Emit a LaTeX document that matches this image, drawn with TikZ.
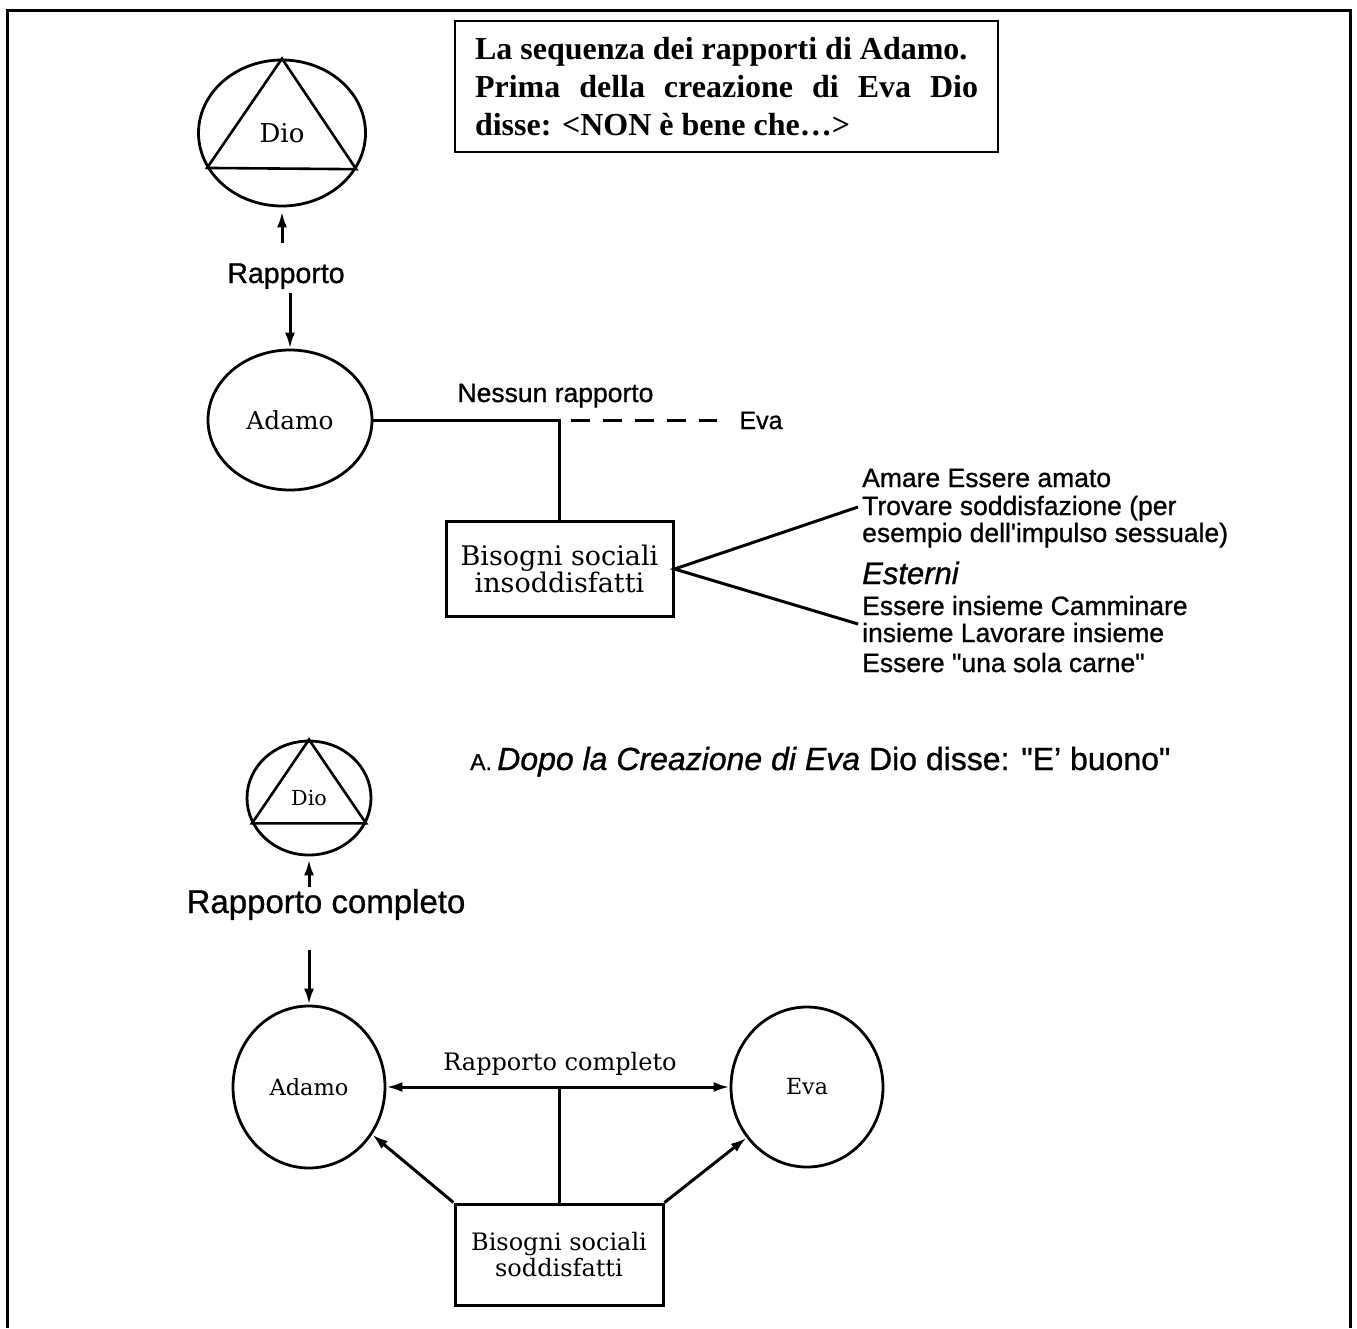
\documentclass[tikz,border=0pt]{standalone}
\usepackage{fontspec}
\newfontfamily\sansA[FakeBold=0.9]{Liberation Sans}
\newfontfamily\serifB{Liberation Serif}
\newfontfamily\serifD{DejaVu Serif}
\usetikzlibrary{shapes.geometric,arrows.meta}
\newcommand\fsz[2]{\fontsize{#1}{#2}\selectfont}
\begin{document}
\begin{tikzpicture}[x=1pt,y=-1pt,
  lw/.style={line width=3pt},
  circ/.style={ellipse,draw,line width=2.8pt,inner sep=0pt},
  boxn/.style={draw,line width=3pt,inner sep=0pt,align=center},
  arr/.style={line width=3pt,-{Latex[length=16pt,width=10pt]}},
  dbl/.style={line width=3pt,{Latex[length=16pt,width=10pt]}-{Latex[length=16pt,width=10pt]}},
  txt/.style={inner sep=0pt,anchor=base},
  rtxt/.style={inner sep=0pt,anchor=base west,font=\sansA\fsz{26.5}{26}}
]
\useasboundingbox (0,0) rectangle (1357,1328);
% frame
\draw[line width=3pt] (7,1328) -- (7,10) -- (1350,10) -- (1350,1328);

% title
\node[draw,line width=2.2pt,minimum width=543pt,minimum height=131pt,inner xsep=20pt,align=left,
  font=\serifB\bfseries\fsz{32}{38}] (title) at (726.5,86.5)
  {La sequenza dei rapporti di Adamo.\\\makebox[503pt][s]{Prima della creazione di Eva Dio}\\disse: <NON è bene che…>};

% ---------- top part ----------
\node[circ,minimum width=167pt,minimum height=146pt,font=\serifD\fsz{26}{26}] (dio1) at (282,133) {Dio};
\draw[line width=2.6pt] (dio1.north) -- (dio1.205.7) -- (dio1.334.3) -- cycle;
\node[txt,font=\sansA\fsz{28.5}{28}] (rap1) at (286,283) {Rapporto};
\coordinate (u1) at (282,243);
\draw[arr,shorten >=4pt] (u1) -- (dio1.south);
\node[circ,minimum width=164pt,minimum height=140pt,font=\serifD\fsz{24.8}{25}] (adamo1) at (290,420) {Adamo};
\coordinate (d1) at (290,293);
\draw[arr] (d1) -- (adamo1.north);

\node[boxn,minimum width=227pt,minimum height=95pt,font=\serifD\fsz{27}{27}] (box1) at (559.5,569) {Bisogni sociali\\insoddisfatti};
\draw[lw] (adamo1.east) -| (box1.north);
\node[txt,font=\sansA\fsz{26.5}{26}] (nr) at (555.5,402) {Nessun rapporto};
\node[txt,font=\sansA\fsz{25}{25}] (eva0) at (761,429) {Eva};
\coordinate (ds) at (571,420);
\draw[lw,dash pattern=on 19pt off 13pt,shorten >=22pt] (ds) -- (eva0.west |- ds);

\node[rtxt] (r1) at (862,487) {Amare Essere amato};
\node[rtxt] (r2) at (862,515) {Trovare soddisfazione (per};
\node[rtxt] (r3) at (862,542) {esempio dell'impulso sessuale)};
\node[rtxt,font=\sansA\itshape\fsz{31}{31}] (r4) at (862,584) {Esterni};
\node[rtxt] (r5) at (862,615) {Essere insieme Camminare};
\node[rtxt] (r6) at (862,642) {insieme Lavorare insieme};
\node[rtxt] (r7) at (862,672) {Essere "una sola carne"};
\coordinate (e1) at (858,507);
\coordinate (e2) at (858,624);
\draw[lw] (e1) -- (box1.east) -- (e2);

% ---------- bottom part ----------
\node[inner sep=0pt,anchor=base west,font=\sansA\fsz{32}{32}] (capA) at (470,770)
  {{\fsz{23}{23}A.}\,\textit{Dopo la Creazione di Eva} Dio disse: "E’ buono"};

\node[circ,minimum width=124pt,minimum height=114pt,font=\serifD\fsz{20.7}{20}] (dio2) at (309,798) {Dio};
\draw[line width=2.6pt] (dio2.north) -- (dio2.204) -- (dio2.336) -- cycle;
\coordinate (u2) at (309,887);
\draw[arr,shorten >=3pt] (u2) -- (dio2.south);
\node[txt,font=\sansA\fsz{33}{33}] (rap2) at (326,913) {Rapporto completo};
\node[circ,minimum width=152pt,minimum height=162pt,font=\serifD\fsz{22.5}{23}] (adamo2) at (309,1087) {Adamo};
\coordinate (d2) at (309,950);
\draw[arr] (d2) -- (adamo2.north);
\node[circ,minimum width=152pt,minimum height=160pt,font=\serifD\fsz{22.2}{22}] (eva2) at (807,1087) {Eva};
\draw[dbl] (adamo2.east) -- (eva2.west);
\node[txt,font=\serifD\fsz{24}{24}] (rc) at (560,1070) {Rapporto completo};
\node[boxn,minimum width=208pt,minimum height=101pt,font=\serifD\fsz{24}{26}] (box2) at (559,1254.5) {Bisogni sociali\\soddisfatti};
\coordinate (mid) at (559,1087);
\draw[lw] (mid) -- (box2.north);
\draw[arr] (box2.north west) -- (adamo2.-37);
\draw[arr] (box2.north east) -- (eva2.220);
\end{tikzpicture}
\end{document}
